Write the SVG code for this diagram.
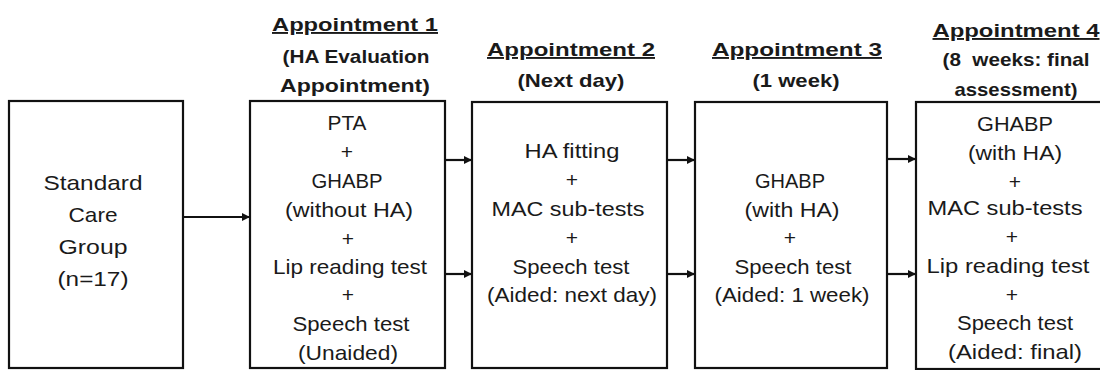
<svg xmlns="http://www.w3.org/2000/svg" width="1100" height="370" viewBox="0 0 1100 370">
<style>
.box{fill:#fff;stroke:#111;stroke-width:2.2}
.t{font-family:"Liberation Sans",Arial,sans-serif;font-size:21px;fill:#1a1a1a;text-anchor:middle}
.h{font-family:"Liberation Sans",Arial,sans-serif;font-size:19px;font-weight:bold;fill:#1a1a1a;text-anchor:middle}
.u{text-decoration:underline}
.c{stroke:#111;stroke-width:2.2;fill:none;marker-end:url(#ah)}
</style>
<defs>
<marker id="ah" markerUnits="userSpaceOnUse" markerWidth="9" markerHeight="9" refX="8" refY="4.5" orient="auto">
<path d="M0,0.5 L8,4.5 L0,8.5 z" fill="#111"/>
</marker>
</defs>
<rect width="1100" height="370" fill="#fff"/>

<g id="connectors">
<line class="c" x1="183" y1="217" x2="250" y2="217"/>
<line class="c" x1="445" y1="160" x2="472" y2="160"/>
<line class="c" x1="445" y1="274" x2="472" y2="274"/>
<line class="c" x1="667" y1="160" x2="695" y2="160"/>
<line class="c" x1="667" y1="274" x2="695" y2="274"/>
<line class="c" x1="887" y1="159" x2="916" y2="159"/>
<line class="c" x1="887" y1="274" x2="916" y2="274"/>
</g>

<g id="group">
<rect class="box" x="9" y="101" width="174" height="267"/>
<text class="t" x="93" y="190" textLength="99" lengthAdjust="spacingAndGlyphs">Standard</text>
<text class="t" x="93" y="222" textLength="49" lengthAdjust="spacingAndGlyphs">Care</text>
<text class="t" x="93" y="254" textLength="69" lengthAdjust="spacingAndGlyphs">Group</text>
<text class="t" x="93" y="286" textLength="71" lengthAdjust="spacingAndGlyphs">(n=17)</text>
</g>

<g id="appt1">
<text class="h u" x="355" y="31" textLength="166" lengthAdjust="spacingAndGlyphs">Appointment 1</text>
<text class="h" x="356" y="63" textLength="147" lengthAdjust="spacingAndGlyphs">(HA Evaluation</text>
<text class="h" x="355" y="92" textLength="150" lengthAdjust="spacingAndGlyphs">Appointment)</text>
<rect class="box" x="250" y="101" width="195" height="267"/>
<text class="t" x="347" y="130" textLength="39" lengthAdjust="spacingAndGlyphs">PTA</text>
<text class="t" x="347" y="159">+</text>
<text class="t" x="347" y="188" textLength="71" lengthAdjust="spacingAndGlyphs">GHABP</text>
<text class="t" x="349" y="217" textLength="128" lengthAdjust="spacingAndGlyphs">(without HA)</text>
<text class="t" x="348" y="246">+</text>
<text class="t" x="350" y="274" textLength="154" lengthAdjust="spacingAndGlyphs">Lip reading test</text>
<text class="t" x="348" y="302">+</text>
<text class="t" x="351" y="331" textLength="117" lengthAdjust="spacingAndGlyphs">Speech test</text>
<text class="t" x="348" y="360" textLength="100" lengthAdjust="spacingAndGlyphs">(Unaided)</text>
</g>

<g id="appt2">
<text class="h u" x="571" y="56" textLength="168" lengthAdjust="spacingAndGlyphs">Appointment 2</text>
<text class="h" x="571" y="87" textLength="107" lengthAdjust="spacingAndGlyphs">(Next day)</text>
<rect class="box" x="472" y="102" width="195" height="266"/>
<text class="t" x="572" y="158" textLength="95" lengthAdjust="spacingAndGlyphs">HA fitting</text>
<text class="t" x="572" y="187">+</text>
<text class="t" x="568" y="216" textLength="153" lengthAdjust="spacingAndGlyphs">MAC sub-tests</text>
<text class="t" x="572" y="245">+</text>
<text class="t" x="571" y="274" textLength="117" lengthAdjust="spacingAndGlyphs">Speech test</text>
<text class="t" x="572" y="302" textLength="170" lengthAdjust="spacingAndGlyphs">(Aided: next day)</text>
</g>

<g id="appt3">
<text class="h u" x="797" y="56" textLength="170" lengthAdjust="spacingAndGlyphs">Appointment 3</text>
<text class="h" x="796" y="87" textLength="87" lengthAdjust="spacingAndGlyphs">(1 week)</text>
<rect class="box" x="695" y="102" width="192" height="266"/>
<text class="t" x="790" y="188" textLength="70" lengthAdjust="spacingAndGlyphs">GHABP</text>
<text class="t" x="792" y="217" textLength="95" lengthAdjust="spacingAndGlyphs">(with HA)</text>
<text class="t" x="790" y="245">+</text>
<text class="t" x="793" y="274" textLength="117" lengthAdjust="spacingAndGlyphs">Speech test</text>
<text class="t" x="792" y="302" textLength="155" lengthAdjust="spacingAndGlyphs">(Aided: 1 week)</text>
</g>

<g id="appt4">
<text class="h u" x="1016" y="37" textLength="167" lengthAdjust="spacingAndGlyphs">Appointment 4</text>
<text class="h" x="1016" y="66" textLength="147" lengthAdjust="spacingAndGlyphs" xml:space="preserve">(8  weeks: final</text>
<text class="h" x="1016" y="96" textLength="123" lengthAdjust="spacingAndGlyphs">assessment)</text>
<rect class="box" x="916" y="102" width="190" height="267"/>
<text class="t" x="1015" y="131" textLength="76" lengthAdjust="spacingAndGlyphs">GHABP</text>
<text class="t" x="1015" y="160" textLength="94" lengthAdjust="spacingAndGlyphs">(with HA)</text>
<text class="t" x="1015" y="189">+</text>
<text class="t" x="1005" y="215" textLength="155" lengthAdjust="spacingAndGlyphs">MAC sub-tests</text>
<text class="t" x="1012" y="244">+</text>
<text class="t" x="1008" y="273" textLength="163" lengthAdjust="spacingAndGlyphs">Lip reading test</text>
<text class="t" x="1012" y="302">+</text>
<text class="t" x="1015" y="330" textLength="116" lengthAdjust="spacingAndGlyphs">Speech test</text>
<text class="t" x="1015" y="359" textLength="134" lengthAdjust="spacingAndGlyphs">(Aided: final)</text>
</g>
</svg>
